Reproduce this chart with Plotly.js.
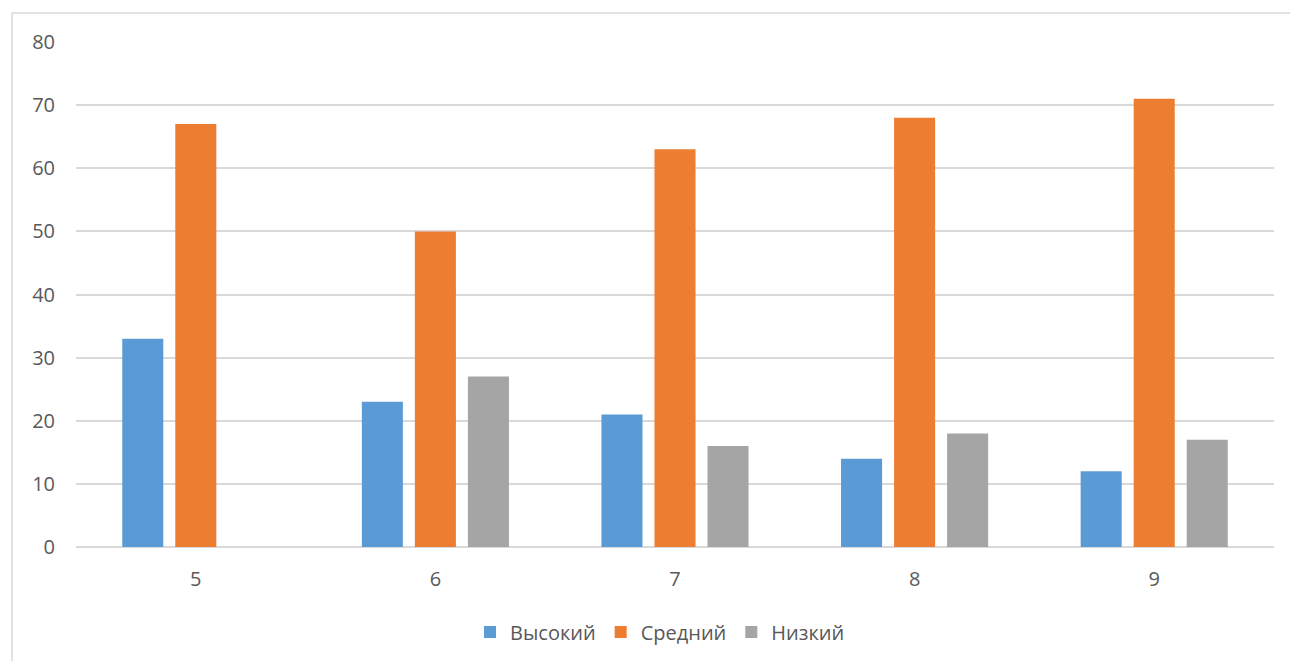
<!DOCTYPE html>
<html>
<head>
<meta charset="utf-8">
<script src="https://cdn.plot.ly/plotly-3.0.1.min.js"></script>
<style>
html,body{margin:0;padding:0;background:#fff;}
#chart{width:1290px;height:661px;}
</style>
</head>
<body>
<div id="chart"></div>
<script>
const categories = ["5", "6", "7", "8", "9"];
const seriesNames = ["Высокий", "Средний", "Низкий"];
const vysokiy = [33, 23, 21, 14, 12];
const sredniy = [67, 50, 63, 68, 71];
const nizkiy = [0, 27, 16, 18, 17];
const colors = ["#5B9BD5", "#ED7D31", "#A5A5A5"];
const yTicks = [0, 10, 20, 30, 40, 50, 60, 70, 80];

const values = [vysokiy, sredniy, nizkiy];
const data = values.map((v, i) => ({
  type: "bar",
  name: seriesNames[i],
  x: categories,
  y: v,
  marker: {color: colors[i], line: {width: 0}},
  hoverinfo: "none"
}));

const font = {family: "'Open Sans', 'Noto Sans', sans-serif", size: 20, color: "#595959"};

const layout = {
  width: 1290,
  height: 661,
  margin: {l: 76, r: 16, t: 42, b: 114, autoexpand: false},
  paper_bgcolor: "#ffffff",
  plot_bgcolor: "#ffffff",
  barmode: "group",
  bargap: 0.336,
  bargroupgap: 0.226,
  font: font,
  showlegend: true,
  legend: {
    orientation: "h",
    x: 0.4875,
    xanchor: "center",
    yref: "container",
    y: 0.044,
    yanchor: "middle",
    font: font,
    itemwidth: 30,
    traceorder: "normal"
  },
  xaxis: {
    type: "category",
    showgrid: false,
    zeroline: false,
    showline: false,
    ticks: "",
    ticklabelstandoff: 18,
    tickfont: font
  },
  yaxis: {
    range: [0, 80],
    tickvals: yTicks,
    ticktext: yTicks.map(String),
    showgrid: true,
    gridcolor: "#D9D9D9",
    gridwidth: 2,
    zeroline: true,
    zerolinecolor: "#D9D9D9",
    zerolinewidth: 2,
    showline: false,
    ticks: "",
    ticklabelstandoff: 20,
    tickfont: font,
    fixedrange: true
  },
  shapes: [{
    type: "rect",
    xref: "paper", yref: "paper",
    x0: -0.0534, x1: 1.2,
    y0: -0.5, y1: 1.0574,
    line: {color: "#D9D9D9", width: 1.5},
    fillcolor: "rgba(0,0,0,0)",
    layer: "below"
  }]
};

Plotly.newPlot("chart", data, layout, {displayModeBar: false, staticPlot: true});
</script>
</body>
</html>
